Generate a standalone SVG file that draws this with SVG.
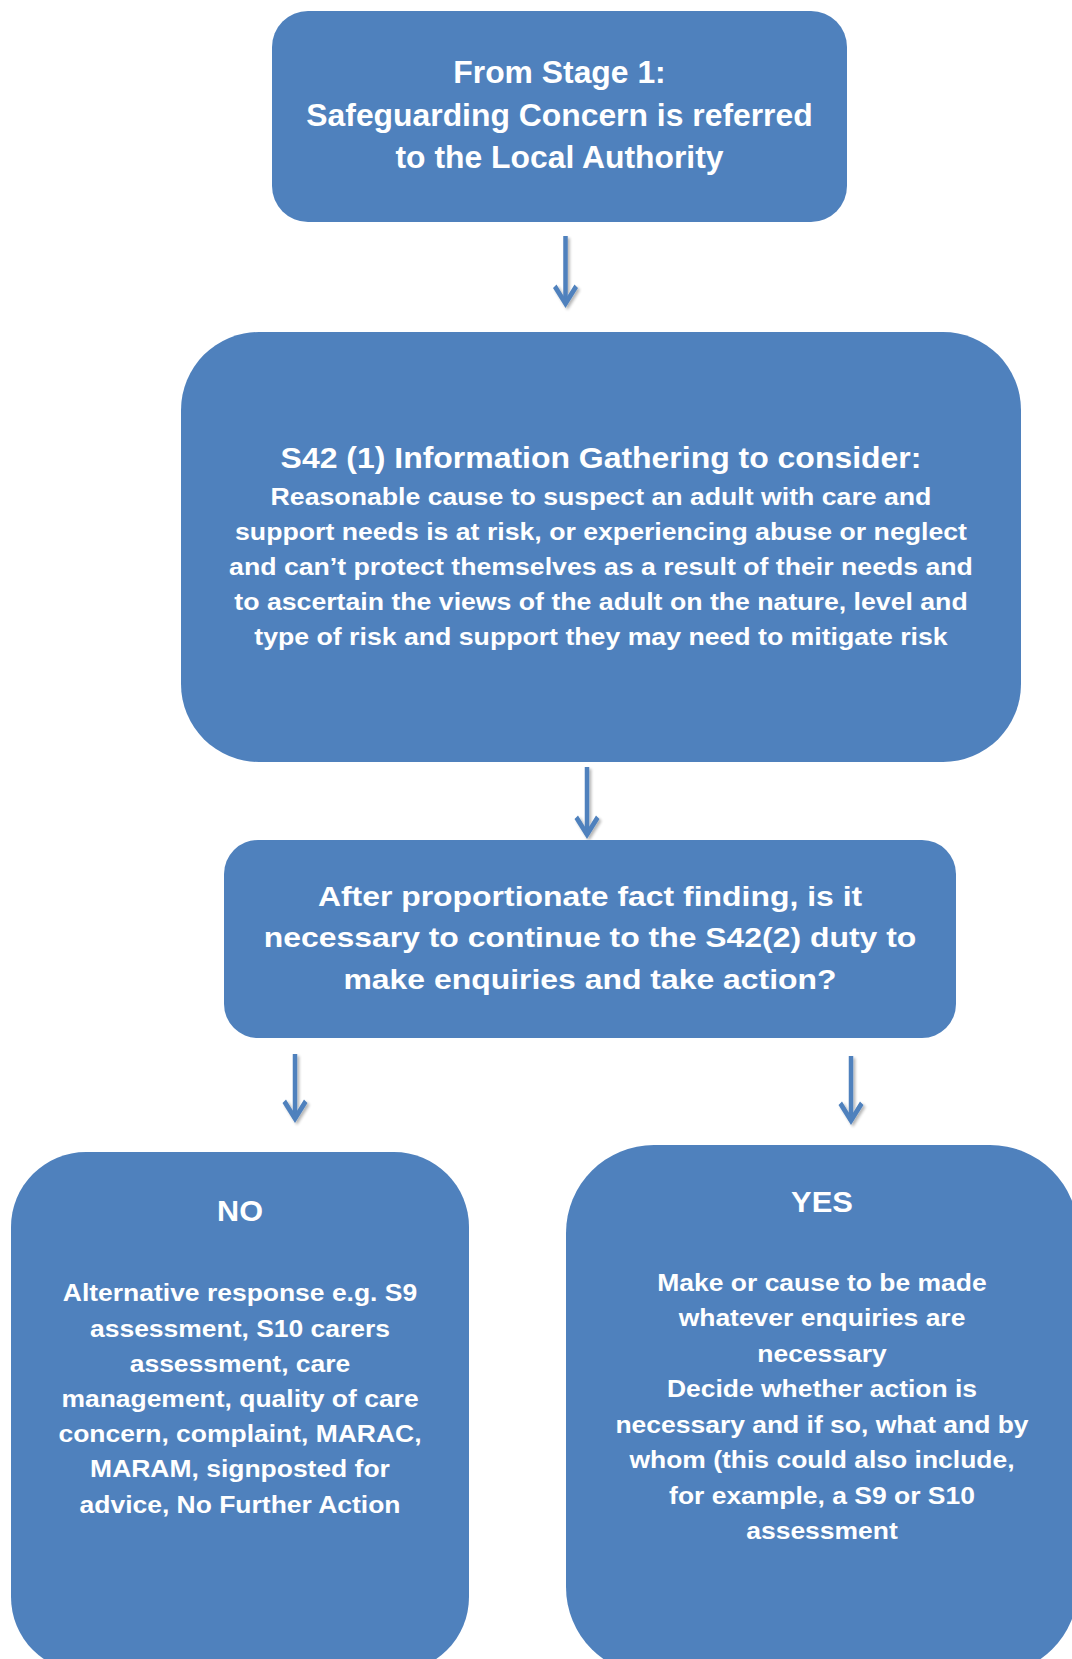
<svg xmlns="http://www.w3.org/2000/svg" width="1072" height="1659" viewBox="0 0 1072 1659">
<style>
.box{fill:#4F81BD;}
.txt{fill:#FFFFFF;font-family:"Liberation Sans",Arial,sans-serif;font-weight:bold;text-anchor:middle;}
.conn{stroke:#4F81BD;stroke-width:4.5;fill:none;marker-end:url(#ah);}
</style>
<defs>
<marker id="ah" viewBox="-24 -14 26 28" refX="-4" refY="0" markerWidth="26" markerHeight="28" markerUnits="userSpaceOnUse" orient="auto">
<path d="M0,0 L-20,-12.5 L-23.5,-9 L-9,0 L-23.5,9 L-20,12.5 Z" fill="#4F81BD"/>
</marker>
<filter id="sh" x="-50%" y="-20%" width="200%" height="140%">
<feGaussianBlur in="SourceAlpha" stdDeviation="1.5"/>
<feOffset dx="1.5" dy="2" result="b"/>
<feComponentTransfer><feFuncA type="linear" slope="0.3"/></feComponentTransfer>
<feMerge><feMergeNode/><feMergeNode in="SourceGraphic"/></feMerge>
</filter>
</defs>
<rect width="1072" height="1659" fill="#FFFFFF"/>

<g id="connectors" filter="url(#sh)">
<line class="conn" x1="565.5" y1="236" x2="565.5" y2="304"/>
<line class="conn" x1="587" y1="767" x2="587" y2="835"/>
<line class="conn" x1="295" y1="1054" x2="295" y2="1119"/>
<line class="conn" x1="851" y1="1056" x2="851" y2="1121"/>
</g>

<g id="stage1">
<rect class="box" x="272" y="11" width="575" height="211" rx="36" ry="36"/>
<g transform="translate(559.5 0) scale(1.035 1)">
<text class="txt" x="0" y="83" font-size="30.8">From Stage 1:</text>
<text class="txt" x="0" y="126" font-size="30.8">Safeguarding Concern is referred</text>
<text class="txt" x="0" y="168" font-size="30.8">to the Local Authority</text>
</g>
</g>

<g id="s42-info">
<rect class="box" x="181" y="332" width="840" height="430" rx="78" ry="78"/>
<g transform="translate(601 0) scale(1.055 1)">
<text class="txt" x="0" y="468" font-size="30.3">S42 (1) Information Gathering to consider:</text>
</g>
<g transform="translate(601 0) scale(1.16 1)">
<text class="txt" x="0" y="505" font-size="23">Reasonable cause to suspect an adult with care and</text>
<text class="txt" x="0" y="540" font-size="23">support needs is at risk, or experiencing abuse or neglect</text>
<text class="txt" x="0" y="575" font-size="23">and can’t protect themselves as a result of their needs and</text>
<text class="txt" x="0" y="610" font-size="23">to ascertain the views of the adult on the nature, level and</text>
<text class="txt" x="0" y="645" font-size="23">type of risk and support they may need to mitigate risk</text>
</g>
</g>

<g id="decision">
<rect class="box" x="224" y="840" width="732" height="198" rx="34" ry="34"/>
<g transform="translate(590 0) scale(1.12 1)">
<text class="txt" x="0" y="906" font-size="28.5">After proportionate fact finding, is it</text>
<text class="txt" x="0" y="947" font-size="28.5">necessary to continue to the S42(2) duty to</text>
<text class="txt" x="0" y="989" font-size="28.5">make enquiries and take action?</text>
</g>
</g>

<g id="no">
<rect class="box" x="11" y="1152" width="458" height="520" rx="75" ry="75"/>
<g transform="translate(240 0) scale(1.02 1)">
<text class="txt" x="0" y="1221" font-size="30">NO</text>
</g>
<g transform="translate(240 0) scale(1.085 1)">
<text class="txt" x="0" y="1301.5" font-size="24.4">Alternative response e.g. S9</text>
<text class="txt" x="0" y="1336.7" font-size="24.4">assessment, S10 carers</text>
<text class="txt" x="0" y="1371.9" font-size="24.4">assessment, care</text>
<text class="txt" x="0" y="1407.1" font-size="24.4">management, quality of care</text>
<text class="txt" x="0" y="1442.3" font-size="24.4">concern, complaint, MARAC,</text>
<text class="txt" x="0" y="1477.5" font-size="24.4">MARAM, signposted for</text>
<text class="txt" x="0" y="1512.7" font-size="24.4">advice, No Further Action</text>
</g>
</g>

<g id="yes">
<rect class="box" x="566" y="1145" width="512" height="530" rx="88" ry="88"/>
<g transform="translate(822 0) scale(1.03 1)">
<text class="txt" x="0" y="1212" font-size="30">YES</text>
</g>
<g transform="translate(822 0) scale(1.085 1)">
<text class="txt" x="0" y="1291" font-size="24.4">Make or cause to be made</text>
<text class="txt" x="0" y="1326.5" font-size="24.4">whatever enquiries are</text>
<text class="txt" x="0" y="1362" font-size="24.4">necessary</text>
<text class="txt" x="0" y="1397.5" font-size="24.4">Decide whether action is</text>
<text class="txt" x="0" y="1433" font-size="24.4">necessary and if so, what and by</text>
<text class="txt" x="0" y="1468.5" font-size="24.4">whom (this could also include,</text>
<text class="txt" x="0" y="1504" font-size="24.4">for example, a S9 or S10</text>
<text class="txt" x="0" y="1539.5" font-size="24.4">assessment</text>
</g>
</g>
</svg>
